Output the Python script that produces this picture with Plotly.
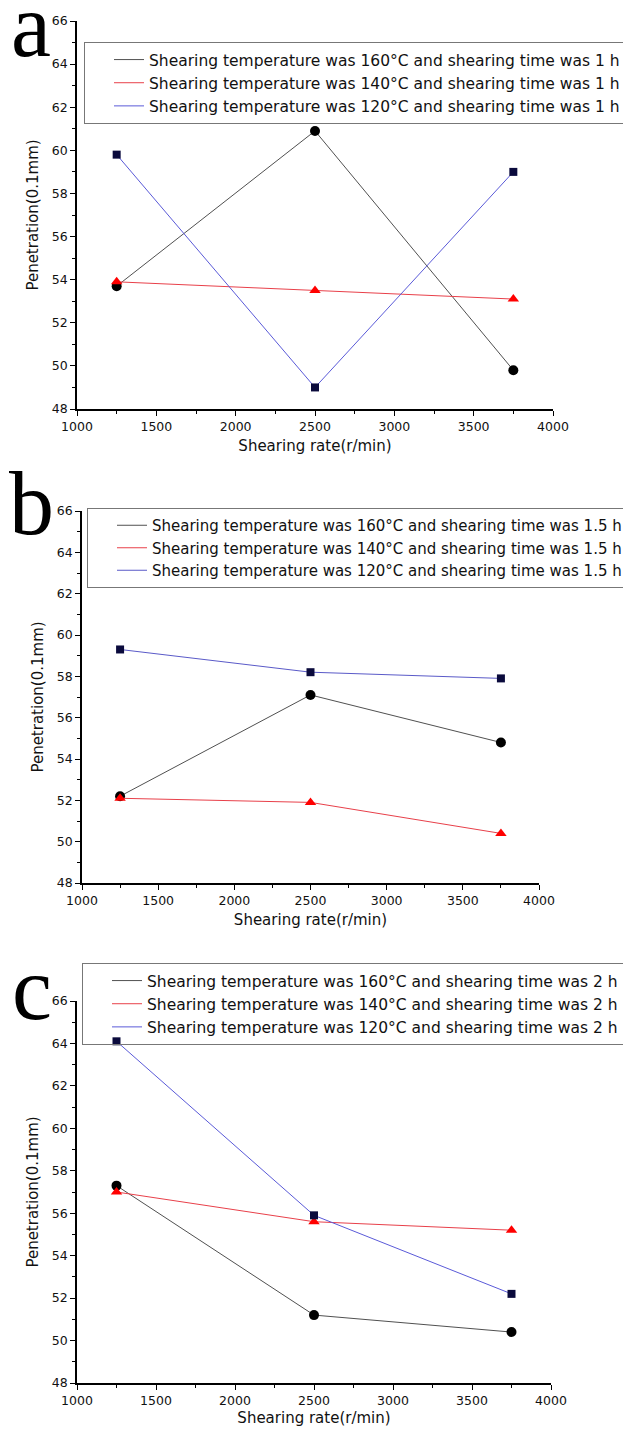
import plotly.graph_objects as go

rates = [1250, 2500, 3750]

# Panel a (1 h)
a_160 = [53.7, 60.9, 49.8]
a_140 = [53.9, 53.5, 53.1]
a_120 = [59.8, 49.0, 59.0]
# Panel b (1.5 h)
b_160 = [52.2, 57.1, 54.8]
b_140 = [52.1, 51.9, 50.4]
b_120 = [59.3, 58.2, 57.9]
# Panel c (2 h)
c_160 = [57.3, 51.2, 50.4]
c_140 = [57.0, 55.6, 55.2]
c_120 = [64.1, 55.9, 52.2]

panel_letters = ["a", "b", "c"]
times = ["1", "1.5", "2"]
temps = ["160", "140", "120"]

x_ticks = [1000, 1500, 2000, 2500, 3000, 3500, 4000]
y_ticks = [48, 50, 52, 54, 56, 58, 60, 62, 64, 66]

# page body has an 8px margin; figure fills the rest of the 631x1430 window
OFF = 8
W, H = 631 - OFF, 1430 - OFF
FONT = "DejaVu Sans, Liberation Sans, Arial, sans-serif"


def px(x):
    return (x - OFF) / W


def py(y):
    return 1 - (y - OFF) / H


line_cols = ["#505050", "#e8404a", "#5a5ad8"]
line_cols_b = ["#505050", "#e8404a", "#5a5ac8"]
mk_cols = ["#000000", "#ff0000", "#0a0a3c"]
mk_syms = ["circle", "triangle-up", "square"]
mk_sizes = [10, 10, 8]

# pixel geometry of each panel (screen px): (x_left, x_right, y_top(66), y_bottom(48))
geo = [(77, 553, 21, 409), (82, 539, 511, 883), (77, 551, 1001, 1383)]
leg_pos = [(84, 42), (87, 508), (82, 963)]
leg_font = [15.5, 15, 15.5]
letter_pos = [(31, 25), (31, 503), (32, 988)]
xt_standoff = [8, 8, 6]

data = [[a_160, a_140, a_120], [b_160, b_140, b_120], [c_160, c_140, c_120]]

fig = go.Figure()
layout = dict(width=W, height=H, margin=dict(l=0, r=0, t=0, b=0, autoexpand=False),
              paper_bgcolor="white", plot_bgcolor="white",
              font=dict(family=FONT, color="#111111"), annotations=[])

for p in range(3):
    sfx = "" if p == 0 else str(p + 1)
    xl, xr, yt, yb = geo[p]
    for s in range(3):
        lc = line_cols_b[s] if p == 1 else line_cols[s]
        name = f"Shearing temperature was {temps[s]}°C and shearing time was {times[p]} h"
        fig.add_trace(go.Scatter(
            x=rates, y=data[p][s], mode="lines", name=name,
            line=dict(color=lc, width=1), xaxis="x" + sfx, yaxis="y" + sfx,
            legend="legend" + sfx, showlegend=True))
        fig.add_trace(go.Scatter(
            x=rates, y=data[p][s], mode="markers", showlegend=False,
            marker=dict(symbol=mk_syms[s], size=mk_sizes[s], color=mk_cols[s],
                        line=dict(width=0)),
            xaxis="x" + sfx, yaxis="y" + sfx))
    axcommon = dict(showgrid=False, zeroline=False, showline=True, linecolor="black",
                    linewidth=1.5, ticks="outside", ticklen=5, tickwidth=1.2,
                    tickcolor="black", mirror=False, automargin=False,
                    tickfont=dict(family=FONT, size=12.5, color="#111111"))
    layout["xaxis" + sfx] = dict(
        axcommon, domain=[px(xl), px(xr)], range=[1000, 4000],
        tickvals=x_ticks, anchor="y" + sfx,
        minor=dict(dtick=250, ticks="outside", ticklen=3, tickcolor="black", tickwidth=1),
        title=dict(text="Shearing rate(r/min)", font=dict(size=15, family=FONT),
                   standoff=xt_standoff[p]))
    layout["yaxis" + sfx] = dict(
        axcommon, domain=[py(yb), py(yt)], range=[48, 66],
        tickvals=y_ticks, anchor="x" + sfx,
        minor=dict(dtick=1, ticks="outside", ticklen=3, tickcolor="black", tickwidth=1),
        title=dict(text="Penetration(0.1mm)", font=dict(size=15, family=FONT), standoff=10))
    lx, ly = leg_pos[p]
    layout["legend" + sfx] = dict(
        x=px(lx), y=py(ly), xanchor="left", yanchor="top",
        xref="paper", yref="paper",
        bordercolor="#777777", borderwidth=1, bgcolor="rgba(255,255,255,0)",
        font=dict(family=FONT, size=leg_font[p], color="#111111"), indentation=24,
        tracegroupgap=0)
    cx, cy = letter_pos[p]
    layout["annotations"].append(dict(
        text=panel_letters[p], x=px(cx), y=py(cy), xref="paper", yref="paper",
        xanchor="center", yanchor="middle", showarrow=False,
        font=dict(family="Liberation Serif, Times New Roman, serif", size=90, color="black")))

fig.update_layout(**layout)
fig.write_html("out.html")
